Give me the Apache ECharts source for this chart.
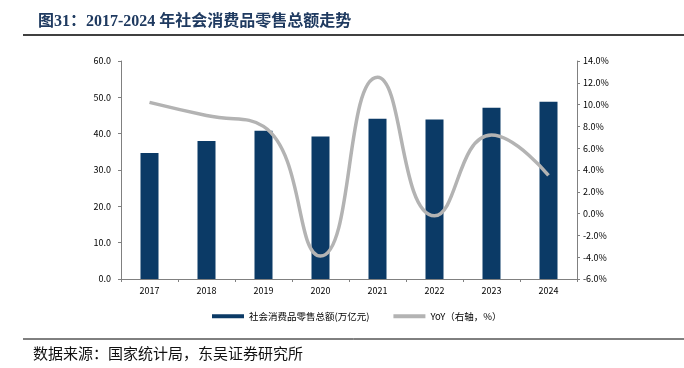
<!DOCTYPE html>
<html>
<head>
<meta charset="utf-8">
<script src="https://cdn.jsdelivr.net/npm/echarts@6/dist/echarts.min.js"></script>
<style>
  html, body { margin: 0; padding: 0; background: #fff; }
  #main { width: 684px; height: 368px; }
</style>
</head>
<body>
<div id="main"></div>
<script>
// 年份
const years = ['2017', '2018', '2019', '2020', '2021', '2022', '2023', '2024'];
// 社会消费品零售总额（万亿元）
const retailSales = [34.7, 38.0, 40.8, 39.2, 44.1, 43.9, 47.1, 48.8];
// YoY（%）
const yoy = [10.2, 9.0, 8.0, -3.9, 12.5, -0.2, 7.2, 3.5];

const chart = echarts.init(document.getElementById('main'));
const axisFont = 'SimSun, "Noto Sans CJK SC", sans-serif';

const option = {
  animation: false,
  title: {
    text: '图31：2017-2024 年社会消费品零售总额走势',
    left: 33,
    top: 9,
    textStyle: {
      color: '#1f3a60',
      fontSize: 16,
      fontWeight: 'bold',
      fontFamily: '"Liberation Serif", "Noto Sans CJK SC", serif'
    }
  },
  graphic: [
    { type: 'line', shape: { x1: 23, y1: 35, x2: 684, y2: 35 }, style: { stroke: '#000', lineWidth: 1.5 } },
    { type: 'line', shape: { x1: 23, y1: 339, x2: 684, y2: 339 }, style: { stroke: '#000', lineWidth: 1 } },
    {
      type: 'text', left: 33, top: 346,
      style: { text: '数据来源：国家统计局，东吴证券研究所', fill: '#111', font: '15px "Noto Sans CJK SC", sans-serif' }
    }
  ],
  legend: {
    bottom: 42,
    left: 207,
    itemGap: 24,
    itemWidth: 32,
    itemHeight: 4,
    textStyle: { fontSize: 9.5, color: '#000', fontFamily: axisFont },
    data: [
      { name: '社会消费品零售总额(万亿元)', icon: 'rect' },
      { name: 'YoY（右轴，%）', icon: 'rect', itemStyle: { color: '#b3b3b3' } }
    ]
  },
  grid: { left: 121, right: 107, top: 61, bottom: 89 },
  xAxis: {
    type: 'category',
    data: years,
    axisLine: { lineStyle: { color: '#808080', width: 1 } },
    axisTick: { show: true, alignWithLabel: false, length: 3, lineStyle: { color: '#808080' } },
    axisLabel: { color: '#000', fontSize: 9, fontFamily: axisFont, margin: 7 }
  },
  yAxis: [
    {
      type: 'value',
      min: 0, max: 60, interval: 10,
      splitLine: { show: false },
      axisLine: { show: true, lineStyle: { color: '#808080' } },
      axisTick: { show: true, length: 3, lineStyle: { color: '#808080' } },
      axisLabel: { color: '#000', fontSize: 9, fontFamily: axisFont, margin: 10, formatter: v => v.toFixed(1) }
    },
    {
      type: 'value',
      min: -6, max: 14, interval: 2,
      splitLine: { show: false },
      axisLine: { show: true, lineStyle: { color: '#808080' } },
      axisTick: { show: true, length: 3, lineStyle: { color: '#808080' } },
      axisLabel: { color: '#000', fontSize: 9, fontFamily: axisFont, margin: 6, formatter: v => v.toFixed(1) + '%' }
    }
  ],
  series: [
    {
      name: '社会消费品零售总额(万亿元)',
      type: 'bar',
      data: retailSales,
      barWidth: 18,
      itemStyle: { color: '#0b3a66' }
    },
    {
      name: 'YoY（右轴，%）',
      type: 'line',
      yAxisIndex: 1,
      data: yoy,
      smooth: 0.5,
      symbol: 'none',
      lineStyle: { color: '#b3b3b3', width: 3.5 },
      itemStyle: { color: '#b3b3b3' }
    }
  ]
};

chart.setOption(option);
</script>
</body>
</html>
